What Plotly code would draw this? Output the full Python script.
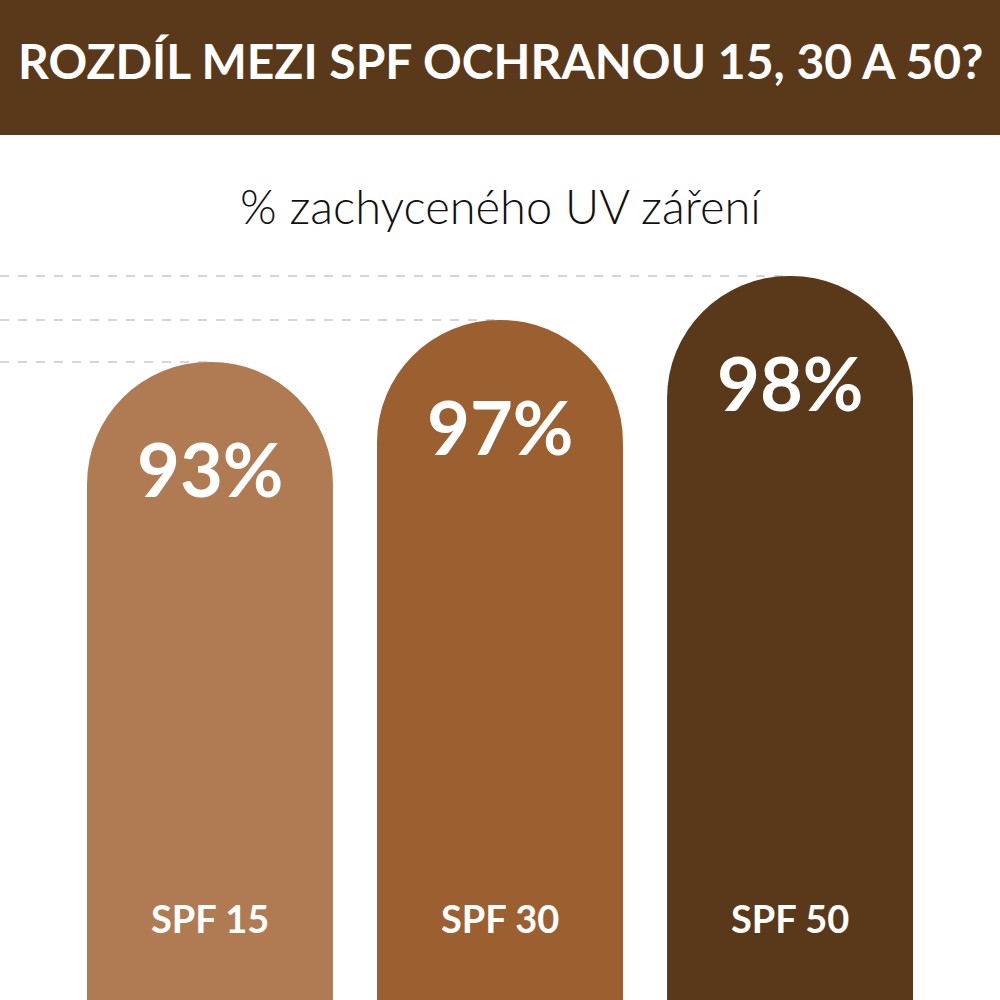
import plotly.graph_objects as go

# data
categories = ["SPF 15", "SPF 30", "SPF 50"]
value_labels = ["93%", "97%", "98%"]
# visual bar heights (infographic is not drawn to a linear scale)
bar_heights = [63.8, 68.0, 72.4]
bar_colors = ["#b07b53", "#9c6030", "#5a381a"]

title_text = "ROZDÍL MEZI SPF OCHRANOU 15, 30 A 50?"
subtitle_text = "% zachyceného UV záření"

header_color = "#5a381a"
x_range = [-0.724, 2.724]

xs = list(range(len(categories)))

fig = go.Figure(go.Bar(
    x=xs,
    y=bar_heights,
    width=0.848,
    marker={'color': bar_colors, 'line': {'width': 0}},
    hoverinfo='skip'))

shapes = []
# header band
shapes.append(dict(type='rect', xref='paper', yref='paper',
                   x0=0, x1=1, y0=1 - 0.135, y1=1,
                   fillcolor=header_color, line={'width': 0}, layer='below'))
# dashed guide lines from the left edge to each bar top
for i, h in zip(xs, bar_heights):
    shapes.append(dict(type='line', xref='x', yref='y',
                       x0=x_range[0], x1=i, y0=h, y1=h,
                       line={'color': '#acacac', 'width': 1.2, 'dash': 'dash'},
                       layer='below'))

annotations = [
    dict(text="<b>" + title_text + "</b>", xref='paper', yref='paper',
         x=0.5, y=0.94, yanchor='middle', showarrow=False,
         font={'family': 'Lato', 'size': 48, 'color': 'white'}),
    dict(text=subtitle_text, xref='paper', yref='paper',
         x=0.5, y=0.794, yanchor='middle', showarrow=False,
         font={'family': 'Lato', 'size': 47, 'weight': 300, 'color': '#111111'}),
]
for i, h, lab in zip(xs, bar_heights, value_labels):
    annotations.append(dict(text="<b>" + lab + "</b>", x=i, y=h, yshift=-106,
                            yanchor='middle', showarrow=False,
                            font={'family': 'Lato', 'size': 74, 'color': 'white'}))
for i, cat in zip(xs, categories):
    annotations.append(dict(text="<b>" + cat + "</b>", x=i, y=0, yshift=82,
                            yanchor='middle', showarrow=False,
                            font={'family': 'Lato', 'size': 38, 'color': 'white'}))

fig.update_layout(
    width=1000, height=1000,
    margin={"r": 0, "t": 0, "l": 0, "b": 0},
    paper_bgcolor='white', plot_bgcolor='white',
    barcornerradius="50%",
    showlegend=False,
    shapes=shapes,
    annotations=annotations,
    xaxis={'range': x_range, 'visible': False, 'fixedrange': True},
    yaxis={'range': [0, 100], 'visible': False, 'fixedrange': True},
)

# page body has a default margin; drop it so the figure fills the window
fig.write_html("out.html", config={'displayModeBar': False},
               post_script="document.body.style.margin='0';")
